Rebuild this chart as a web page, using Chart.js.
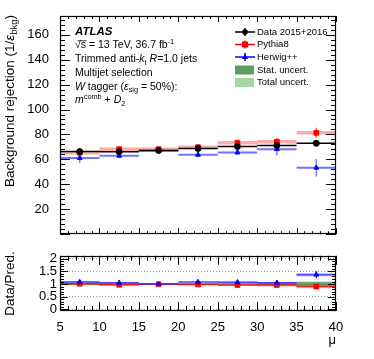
<!DOCTYPE html>
<html><head><meta charset="utf-8">
<script src="https://cdn.jsdelivr.net/npm/chart.js@4/dist/chart.umd.min.js"></script>
<style>
html,body{margin:0;padding:0;background:#fff;}
#wrap{position:relative;width:374px;height:359px;}
canvas{position:absolute;left:0;}
#c1{top:0;} #c2{top:245px;}
</style></head><body>
<div id="wrap"><canvas id="c1" width="374" height="245"></canvas><canvas id="c2" width="374" height="114"></canvas></div>
<script>
// ---- data ----
const binEdges=[5,10,15,20,25,30,35,40];
const data=[66.3,66.1,67.1,68.7,70.3,71.1,72.9];
const dataErr=[1.0,0.9,0.9,0.9,1.0,1.1,1.4];
const pythia=[65.3,68.2,68.2,69.8,73.4,74.2,81.3];
const pythiaErr=[2.0,1.5,1.2,1.5,2.2,3.0,4.0];
const herwig=[61.1,62.9,67.0,63.7,65.5,68.2,53.3];
const herwigErr=[4.0,2.0,1.5,1.5,2.0,5.0,7.0];
const ratioPythia=[1.01,0.97,0.99,0.98,0.96,0.96,0.90];
const ratioPythiaErr=[0.03,0.025,0.02,0.02,0.03,0.04,0.05];
const ratioHerwig=[1.08,1.05,1.00,1.08,1.07,1.05,1.37];
const ratioHerwigErr=[0.07,0.035,0.03,0.03,0.035,0.07,0.14];
const statUnc=[0.02,0.02,0.015,0.015,0.02,0.025,0.06];
const totUnc=[0.035,0.035,0.03,0.03,0.035,0.045,0.09];
const yTicksRatio=[0,0.5,1,1.5,2];

const FONT='"Liberation Sans", Arial, Helvetica, sans-serif';
const centers=binEdges.slice(0,-1).map((e,i)=>(e+binEdges[i+1])/2);
function segs(v){const p=[];v.forEach((y,i)=>{p.push({x:binEdges[i],y},{x:binEdges[i+1],y},{x:binEdges[i+1],y:null});});return p;}
function vbars(v,e){const p=[];v.forEach((y,i)=>{p.push({x:centers[i],y:y-e[i]},{x:centers[i],y:y+e[i]},{x:centers[i],y:null});});return p;}
function pts(v){return v.map((y,i)=>({x:centers[i],y}));}
function bands(c,e){return c.map((y,i)=>({x:centers[i],y:[y-e[i],y+e[i]]}));}
const ones=centers.map(()=>1);

function lineDS(d,color,w,order){return {type:'line',data:d,borderColor:color,borderWidth:w,pointRadius:0,spanGaps:false,tension:0,fill:false,order};}
function markDS(d,color,style,r,order){return {type:'line',data:d,showLine:false,pointRadius:r,pointStyle:style,backgroundColor:color,borderColor:color,borderWidth:1,order};}
function bandDS(d,color,order){return {type:'bar',data:d,backgroundColor:color,borderWidth:0,barPercentage:1,categoryPercentage:1,grouped:false,order};}

function richWidth(ctx,parts,size){let w=0;parts.forEach(p=>{const s=(p.sub||p.sup)?size*0.7:size;ctx.font=(p.st||'')+' '+s+'px '+FONT;w+=ctx.measureText(p.t).width;});return w;}
function drawRich(ctx,x,y,parts,size){let cx=x;parts.forEach(p=>{const s=(p.sub||p.sup)?size*0.7:size;ctx.font=(p.st||'')+' '+s+'px '+FONT;const dy=p.sub?size*0.3:(p.sup?-size*0.38:0);ctx.fillText(p.t,cx,y+dy);const w=ctx.measureText(p.t).width;if(p.over){ctx.save();ctx.lineWidth=0.8;ctx.beginPath();ctx.moveTo(cx-3,y-size*0.45);ctx.lineTo(cx+w+0.5,y-size*0.45);ctx.strokeStyle=ctx.fillStyle;ctx.stroke();ctx.restore();}cx+=w;});return cx;}

const frameTicks={id:'frameTicks',afterDraw(chart,args,o){
  const {ctx,chartArea:ca,scales}=chart;const xs=scales.x,ys=scales.y;
  ctx.save();ctx.strokeStyle='#000';ctx.lineWidth=1;ctx.setLineDash([]);ctx.beginPath();
  const nx=Math.round((o.xTo-o.xFrom)/o.xMinor);
  for(let k=0;k<=nx;k++){const v=o.xFrom+k*o.xMinor;const major=(k%o.xEvery)===0;const L=major?o.xLen[0]:o.xLen[1];const px=Math.round(xs.getPixelForValue(v))+0.5;ctx.moveTo(px,ca.bottom);ctx.lineTo(px,ca.bottom-L);ctx.moveTo(px,ca.top);ctx.lineTo(px,ca.top+L);}
  const ny=Math.round((o.yTo-o.yFrom)/o.yMinor);
  for(let k=0;k<=ny;k++){const v=o.yFrom+k*o.yMinor;const major=(k%o.yEvery)===0;const L=major?o.yLen[0]:o.yLen[1];const py=Math.round(ys.getPixelForValue(v))+0.5;ctx.moveTo(ca.left,py);ctx.lineTo(ca.left+L,py);ctx.moveTo(ca.right,py);ctx.lineTo(ca.right-L,py);}
  ctx.stroke();
  ctx.lineWidth=1.2;
  ctx.strokeRect(Math.round(ca.left)+0.5,Math.round(ca.top)+0.5,Math.round(ca.width)-1,Math.round(ca.height)-1);
  ctx.restore();
}};

const annot={id:'annot',afterDraw(chart){
  const ctx=chart.ctx;ctx.save();ctx.fillStyle='#000';ctx.textBaseline='middle';ctx.textAlign='left';
  const X=75,S=10.5;
  drawRich(ctx,X,32,[{t:'ATLAS',st:'italic bold'}],11.5);
  drawRich(ctx,X,45.5,[{t:'\u221A'},{t:'s',over:true},{t:' = 13 TeV, 36.7 fb'},{t:'-1',sup:true}],S);
  drawRich(ctx,X,59.5,[{t:'Trimmed anti-'},{t:'k',st:'italic'},{t:'t',sub:true},{t:' '},{t:'R',st:'italic'},{t:'=1.0 jets'}],S);
  drawRich(ctx,X,73,[{t:'Multijet selection'}],S);
  drawRich(ctx,X,87,[{t:'W',st:'italic'},{t:' tagger ('},{t:'\u03B5',st:'italic'},{t:'sig',sub:true},{t:' = 50%):'}],S);
  drawRich(ctx,X,100.5,[{t:'m',st:'italic'},{t:'comb',sup:true},{t:' + '},{t:'D',st:'italic'},{t:'2',sub:true}],S);
  const LX0=235,LX1=255,TX=257,LS=9.5;
  const rows=[32,44.5,57,70,82.5];
  const syms=[['#000','circle'],['#ff0000','rect'],['#0000ff','triangle']];
  syms.forEach((s,i)=>{const y=rows[i];ctx.strokeStyle=s[0];ctx.fillStyle=s[0];ctx.lineWidth=1.5;ctx.beginPath();ctx.moveTo(LX0,y);ctx.lineTo(LX1,y);ctx.moveTo(245,y-4);ctx.lineTo(245,y+4);ctx.stroke();
    ctx.beginPath();if(s[1]==='circle'){ctx.arc(245,y,2.8,0,Math.PI*2);}else if(s[1]==='rect'){ctx.rect(242,y-3,6,6);}else{ctx.moveTo(245,y-3);ctx.lineTo(248,y+2);ctx.lineTo(242,y+2);ctx.closePath();}ctx.fill();});
  ctx.fillStyle='#5f9c5f';ctx.fillRect(235,rows[3]-4.5,19,9);
  ctx.fillStyle='#a7d5a3';ctx.fillRect(235,rows[4]-4.5,19,9);
  ctx.fillStyle='#000';
  ['Data 2015+2016','Pythia8','Herwig++','Stat. uncert.','Total uncert.'].forEach((t,i)=>drawRich(ctx,TX,rows[i],[{t}],LS));
  const TS=13.5;const parts=[{t:'Background rejection (1/'},{t:'\u03B5',st:'italic'},{t:'bkg',sub:true},{t:')'}];
  const W=richWidth(ctx,parts,TS);
  ctx.translate(10,15+W);ctx.rotate(-Math.PI/2);drawRich(ctx,0,0,parts,TS);
  ctx.restore();
}};

new Chart(document.getElementById('c1'),{
  type:'line',
  data:{datasets:[
    markDS(pts(data),'#000','circle',3,1),
    lineDS(vbars(data,dataErr),'#000',1.5,2),
    lineDS(segs(data),'#000',1.5,3),
    markDS(pts(pythia),'#ff0000','rect',3.3,4),
    markDS(pts(herwig),'#0000ff','triangle',2.8,5),
    lineDS(vbars(pythia,pythiaErr),'rgba(255,0,0,0.6)',1.5,6),
    lineDS(vbars(herwig,herwigErr),'rgba(40,40,255,0.6)',1.5,7),
    lineDS(segs(herwig),'rgba(40,40,255,0.65)',2,8),
    lineDS(segs(pythia),'rgba(255,40,40,0.4)',3.5,9)
  ]},
  options:{responsive:false,animation:false,devicePixelRatio:1,
    layout:{padding:{left:0,right:38,top:16,bottom:0}},
    plugins:{legend:{display:false},tooltip:{enabled:false},
      frameTicks:{xFrom:5,xTo:40,xMinor:1,xEvery:5,xLen:[6,3],yFrom:0,yTo:172,yMinor:4,yEvery:5,yLen:[10,5]}},
    scales:{
      x:{type:'linear',min:5,max:40,ticks:{display:false},grid:{display:false},border:{display:false},afterFit(s){s.height=5;}},
      y:{type:'linear',min:0,max:175,ticks:{stepSize:20,autoSkip:false,includeBounds:false,padding:3,color:'#000',font:{size:13,family:FONT},callback:v=>v===0?'':String(v)},
         grid:{display:false},border:{display:false},afterFit(s){s.width=60;}}
    }},
  plugins:[frameTicks,annot]
});

new Chart(document.getElementById('c2'),{
  type:'bar',
  data:{datasets:[
    markDS(pts(ratioHerwig),'#0000ff','triangle',2.8,1),
    lineDS(vbars(ratioHerwig,ratioHerwigErr),'#0000ff',1.2,2),
    markDS(pts(ratioPythia),'#ff0000','rect',3.3,3),
    lineDS(segs(ratioHerwig),'rgba(40,40,255,0.8)',1.5,4),
    lineDS(segs(ratioPythia),'rgba(255,0,0,0.8)',1.5,5),
    bandDS(bands(ratioHerwig,ratioHerwigErr.map(e=>e*0.4)),'rgba(70,70,255,0.3)',6),
    bandDS(bands(ratioPythia,ratioPythiaErr),'rgba(255,60,60,0.35)',7),
    bandDS(bands(ones,statUnc),'#5f9c5f',8),
    bandDS(bands(ones,totUnc),'#a7d5a3',9)
  ]},
  options:{responsive:false,animation:false,devicePixelRatio:1,
    layout:{padding:{left:0,right:38,top:1,bottom:0}},
    plugins:{legend:{display:false},tooltip:{enabled:false},
      frameTicks:{xFrom:5,xTo:40,xMinor:1,xEvery:5,xLen:[9,5],yFrom:0,yTo:2.1,yMinor:0.1,yEvery:5,yLen:[8,4]}},
    scales:{
      x:{type:'linear',min:5,max:40,offset:false,ticks:{stepSize:5,autoSkip:false,maxRotation:0,padding:1,color:'#000',font:{size:13,family:FONT}},
         grid:{display:false,offset:false},border:{display:false},
         title:{display:true,text:'\u03BC',align:'end',color:'#000',font:{size:13,family:FONT},padding:{top:0,bottom:11}},
         afterFit(s){s.height=48;}},
      y:{type:'linear',min:-0.07,max:2.12,
         afterBuildTicks(s){s.ticks=yTicksRatio.map(v=>({value:v}));},
         ticks:{autoSkip:false,padding:3,color:'#000',font:{size:13,family:FONT},callback:v=>String(v)},
         grid:{display:true,drawTicks:false,color:'#9a9a9a',lineWidth:1},border:{display:false,dash:[1,2]},
         title:{display:true,text:'Data/Pred.',color:'#000',font:{size:13.5,family:FONT},padding:{top:2,bottom:0}},
         afterFit(s){s.width=60;}}
    }},
  plugins:[frameTicks]
});
</script></body></html>
